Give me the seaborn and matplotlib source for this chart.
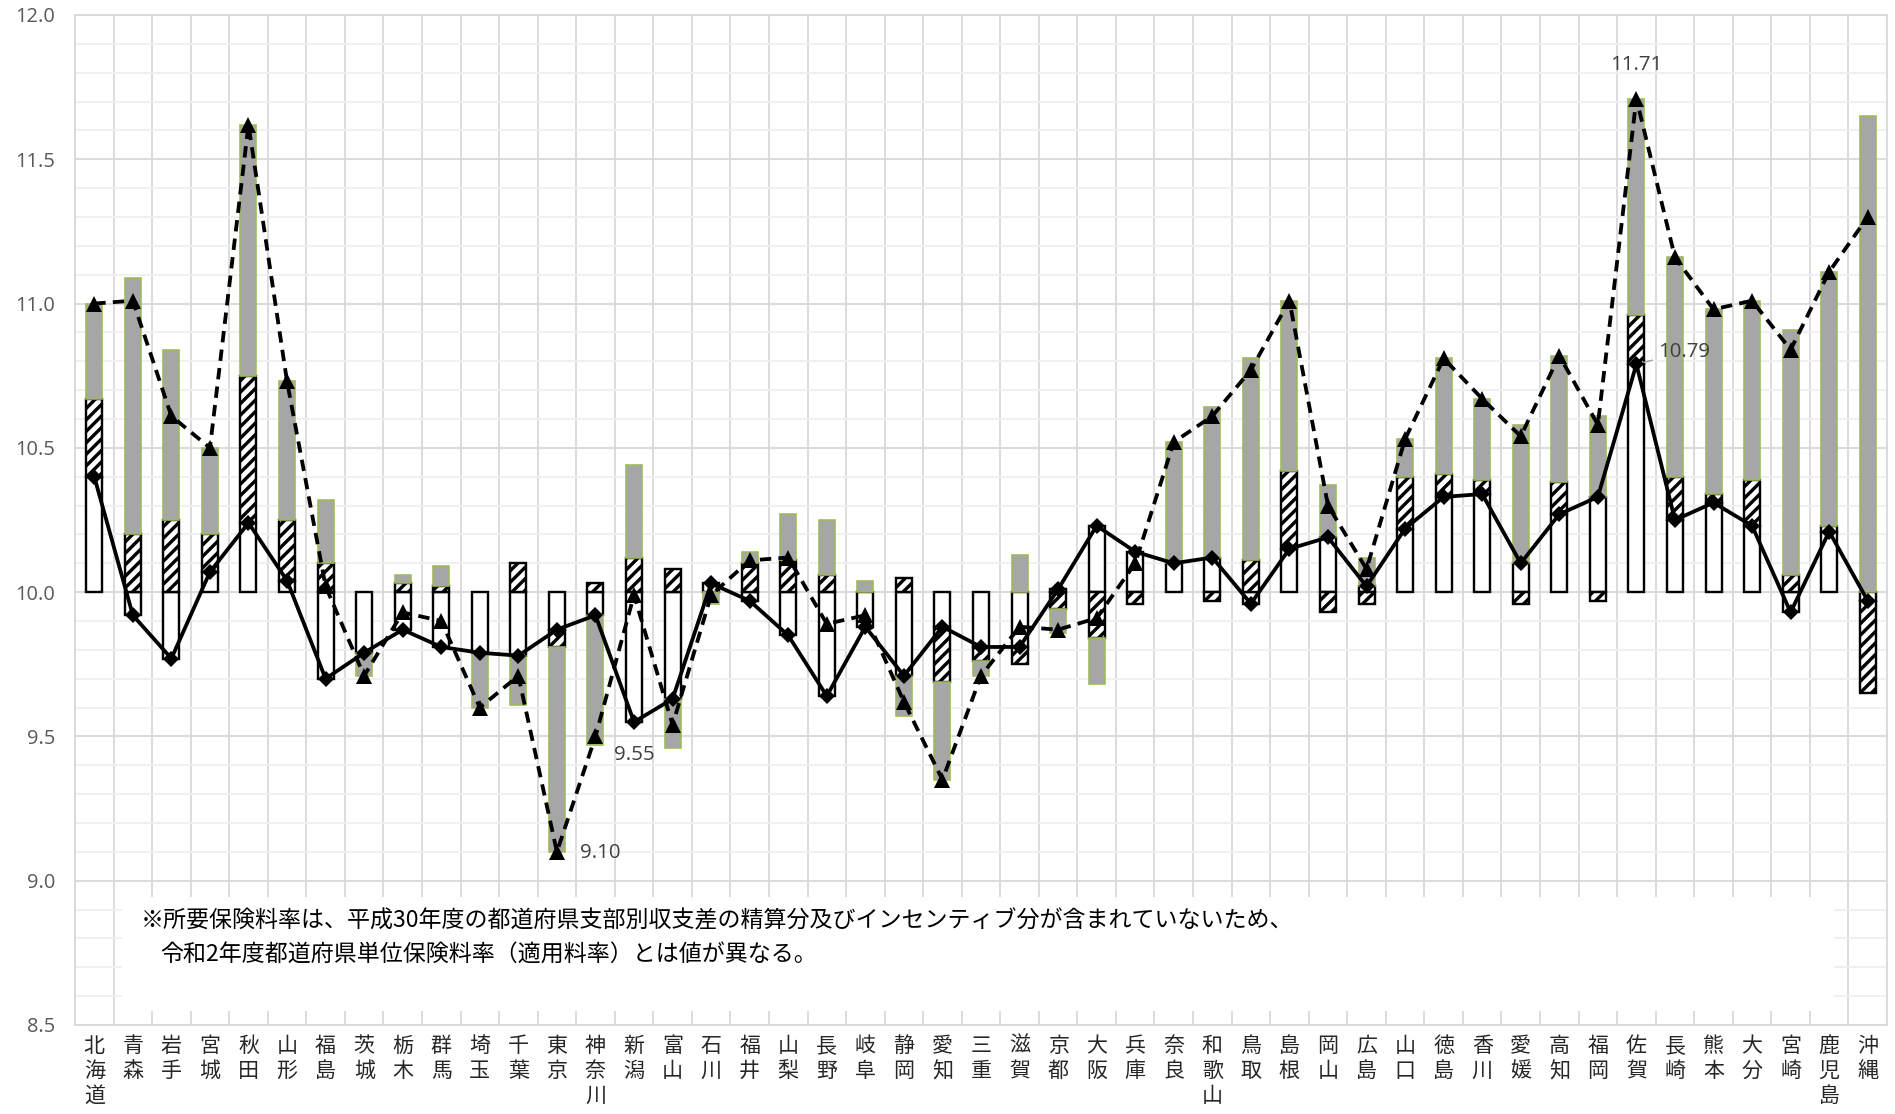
import numpy as np
import pandas as pd
import matplotlib
matplotlib.use("Agg")
import matplotlib.pyplot as plt
from matplotlib.ticker import MultipleLocator, FixedLocator, FormatStrFormatter
from matplotlib.patches import Rectangle
import seaborn as sns

# ---------------------------------------------------------------- data
prefectures = ["北海道", "青森", "岩手", "宮城", "秋田", "山形", "福島", "茨城", "栃木",
               "群馬", "埼玉", "千葉", "東京", "神奈川", "新潟", "富山", "石川", "福井",
               "山梨", "長野", "岐阜", "静岡", "愛知", "三重", "滋賀", "京都", "大阪",
               "兵庫", "奈良", "和歌山", "鳥取", "島根", "岡山", "広島", "山口", "徳島",
               "香川", "愛媛", "高知", "福岡", "佐賀", "長崎", "熊本", "大分", "宮崎",
               "鹿児島", "沖縄"]

# components of the difference from 10% (percentage points), stacked in this order
diff_white = [0.40, -0.08, -0.23, 0.07, 0.24, 0.04, -0.30, -0.21, -0.13, -0.19,
              -0.21, -0.22, -0.13, -0.08, -0.45, -0.37, 0.03, -0.03, -0.15, -0.36,
              -0.12, -0.29, -0.12, -0.19, -0.19, 0.01, 0.23, 0.14, 0.10, 0.12,
              -0.04, 0.15, 0.19, 0.02, 0.22, 0.33, 0.34, 0.10, 0.27, 0.33,
              0.79, 0.25, 0.31, 0.23, -0.07, 0.21, -0.03]
diff_hatched = [0.27, 0.20, 0.25, 0.13, 0.51, 0.21, 0.10, 0.00, 0.03, 0.02,
                0.00, 0.10, -0.06, 0.03, 0.12, 0.08, 0.00, 0.10, 0.11, 0.06,
                0.00, 0.05, -0.19, -0.05, -0.06, -0.06, -0.16, -0.04, 0.00, -0.03,
                0.11, 0.27, -0.07, -0.04, 0.18, 0.08, 0.05, -0.04, 0.11, -0.03,
                0.17, 0.15, 0.03, 0.16, 0.06, 0.02, -0.32]
diff_gray = [0.33, 0.89, 0.59, 0.30, 0.87, 0.48, 0.22, -0.08, 0.03, 0.07,
             -0.19, -0.17, -0.71, -0.45, 0.32, -0.17, -0.04, 0.04, 0.16, 0.19,
             0.04, -0.14, -0.34, -0.05, 0.13, -0.08, -0.16, 0.00, 0.42, 0.52,
             0.70, 0.59, 0.18, 0.10, 0.13, 0.40, 0.28, 0.48, 0.44, 0.28,
             0.75, 0.76, 0.64, 0.62, 0.85, 0.88, 1.65]

# solid line with diamonds
rate_base = [10.40, 9.92, 9.77, 10.07, 10.24, 10.04, 9.70, 9.79, 9.87, 9.81,
             9.79, 9.78, 9.87, 9.92, 9.55, 9.63, 10.03, 9.97, 9.85, 9.64,
             9.88, 9.71, 9.88, 9.81, 9.81, 10.01, 10.23, 10.14, 10.10, 10.12,
             9.96, 10.15, 10.19, 10.02, 10.22, 10.33, 10.34, 10.10, 10.27, 10.33,
             10.79, 10.25, 10.31, 10.23, 9.93, 10.21, 9.97]
# dashed line with triangles
rate_required = [11.00, 11.01, 10.61, 10.50, 11.62, 10.73, 10.02, 9.71, 9.93, 9.90,
                 9.60, 9.71, 9.10, 9.50, 9.99, 9.54, 9.99, 10.11, 10.12, 9.89,
                 9.92, 9.62, 9.35, 9.71, 9.88, 9.87, 9.91, 10.10, 10.52, 10.61,
                 10.77, 11.01, 10.30, 10.08, 10.53, 10.81, 10.67, 10.54, 10.82, 10.58,
                 11.71, 11.16, 10.98, 11.01, 10.84, 11.11, 11.30]

y_ticks = [8.5, 9.0, 9.5, 10.0, 10.5, 11.0, 11.5, 12.0]
BASE = 10.0

note_lines = ["※所要保険料率は、平成30年度の都道府県支部別収支差の精算分及びインセンティブ分が含まれていないため、",
              "令和2年度都道府県単位保険料率（適用料率）とは値が異なる。"]

# ---------------------------------------------------------------- style
DPI = 138
W_PX, H_PX = 1895, 1114


def pt(px):
    """pixels -> points at the output resolution"""
    return px * 72.0 / DPI


sns.set_theme(style="white")
plt.rcParams["font.family"] = ["Noto Sans CJK JP", "DejaVu Sans"]
plt.rcParams["hatch.linewidth"] = pt(3.4)
plt.rcParams["hatch.color"] = "black"

fig = plt.figure(figsize=(W_PX / DPI, H_PX / DPI), dpi=DPI)
ax = fig.add_axes([75 / W_PX, 1 - 1025 / H_PX, (1887 - 75) / W_PX, (1025 - 15) / H_PX])

n = len(prefectures)
x = np.arange(n)

# ---------------------------------------------------------------- stacked bars
bar_styles = [
    dict(facecolor="white", edgecolor="black", linewidth=pt(2.4)),
    dict(facecolor="white", edgecolor="black", linewidth=pt(2.4), hatch="////"),
    dict(facecolor="#A6A6A6", edgecolor="#9BBB59", linewidth=pt(1.6)),
]
pos_acc = np.zeros(n)
neg_acc = np.zeros(n)
for vals, style in zip([diff_white, diff_hatched, diff_gray], bar_styles):
    v = np.asarray(vals, dtype=float)
    bottom = BASE + np.where(v >= 0, pos_acc, neg_acc)
    keep = v != 0
    ax.bar(x[keep], v[keep], bottom=bottom[keep], width=0.415, zorder=2, **style)
    pos_acc += np.clip(v, 0, None)
    neg_acc += np.clip(v, None, 0)

# ---------------------------------------------------------------- lines
df = pd.DataFrame({"x": x, "base": rate_base, "required": rate_required})
sns.lineplot(data=df, x="x", y="required", ax=ax, color="black", linewidth=pt(3.8),
             linestyle=(0, (3.0, 1.9)), marker="^", markersize=pt(16),
             markeredgecolor="black", markerfacecolor="black", markeredgewidth=0,
             zorder=4)
sns.lineplot(data=df, x="x", y="base", ax=ax, color="black", linewidth=pt(3.8),
             marker="D", markersize=pt(11.5), markeredgecolor="black",
             markerfacecolor="black", markeredgewidth=0, zorder=5)

# ---------------------------------------------------------------- axes
ax.set_xlim(-0.5, n - 0.5)
ax.set_ylim(8.5, 12.0)
ax.set_xlabel("")
ax.set_ylabel("")

ax.yaxis.set_major_locator(FixedLocator(y_ticks))
ax.yaxis.set_minor_locator(MultipleLocator(0.1))
ax.yaxis.set_major_formatter(FormatStrFormatter("%.1f"))
ax.xaxis.set_major_locator(FixedLocator(x))
ax.xaxis.set_minor_locator(FixedLocator(np.arange(-0.5, n, 1.0)))
ax.set_xticklabels(["\n".join(name) for name in prefectures])

ax.set_axisbelow(True)
ax.grid(which="minor", axis="y", color="#EFEFEF", linewidth=pt(1.8))
ax.grid(which="major", axis="y", color="#D9D9D9", linewidth=pt(1.8))
ax.grid(which="minor", axis="x", color="#D9D9D9", linewidth=pt(1.8))
ax.grid(which="major", axis="x", visible=False)
for s in ax.spines.values():
    s.set_color("#D9D9D9")
    s.set_linewidth(pt(1.8))

ax.tick_params(which="both", length=0)
ax.tick_params(axis="y", pad=pt(20), labelsize=pt(20), labelcolor="#595959")
ax.tick_params(axis="x", pad=pt(10), labelsize=pt(21), labelcolor="#262626")
for lbl in ax.get_yticklabels():
    lbl.set_fontfamily(["Open Sans", "DejaVu Sans"])
for lbl in ax.get_xticklabels():
    lbl.set_linespacing(1.18)

# ---------------------------------------------------------------- note box
cw = (1887 - 75) / n
box_x0 = -0.5 + (122 - 75) / cw
box_x1 = -0.5 + (1834 - 75) / cw
ppu = (1025 - 15) / 3.5
box_y0 = 8.5 + (1025 - 1011) / ppu
box_y1 = 8.5 + (1025 - 897) / ppu
ax.add_patch(Rectangle((box_x0, box_y0), box_x1 - box_x0, box_y1 - box_y0,
                       facecolor="white", edgecolor="none", zorder=1))
ax.text(-0.5 + (141 - 75) / cw, 8.5 + (1025 - 921) / ppu, note_lines[0],
        ha="left", va="center", fontsize=pt(23), color="black", zorder=3)
ax.text(-0.5 + (160 - 75) / cw, 8.5 + (1025 - 955) / ppu, note_lines[1],
        ha="left", va="center", fontsize=pt(23), color="black", zorder=3)

# ---------------------------------------------------------------- value labels
lab_kw = dict(textcoords="offset pixels", fontsize=pt(20.5), color="#404040",
              fontfamily=["Open Sans", "DejaVu Sans"], zorder=6)
i_max_req = int(np.argmax(rate_required))
i_min_req = int(np.argmin(rate_required))
i_max_base = int(np.argmax(rate_base))
i_min_base = int(np.argmin(rate_base))

ax.annotate(f"{rate_required[i_max_req]:.2f}", (i_max_req, rate_required[i_max_req]),
            xytext=(0, 34), ha="center", va="center", **lab_kw)
ax.annotate(f"{rate_base[i_max_base]:.2f}", (i_max_base, rate_base[i_max_base]),
            xytext=(22, 12), ha="left", va="center",
            arrowprops=dict(arrowstyle="-", color="#A6A6A6", lw=pt(1.5),
                            shrinkA=1, shrinkB=4), **lab_kw)
ax.annotate(f"{rate_base[i_min_base]:.2f}", (i_min_base, rate_base[i_min_base]),
            xytext=(0, -33), ha="center", va="center", **lab_kw)
ax.annotate(f"{rate_required[i_min_req]:.2f}", (i_min_req, rate_required[i_min_req]),
            xytext=(23, -1), ha="left", va="center", **lab_kw)

fig.savefig("out.png", dpi=DPI, facecolor="white")
